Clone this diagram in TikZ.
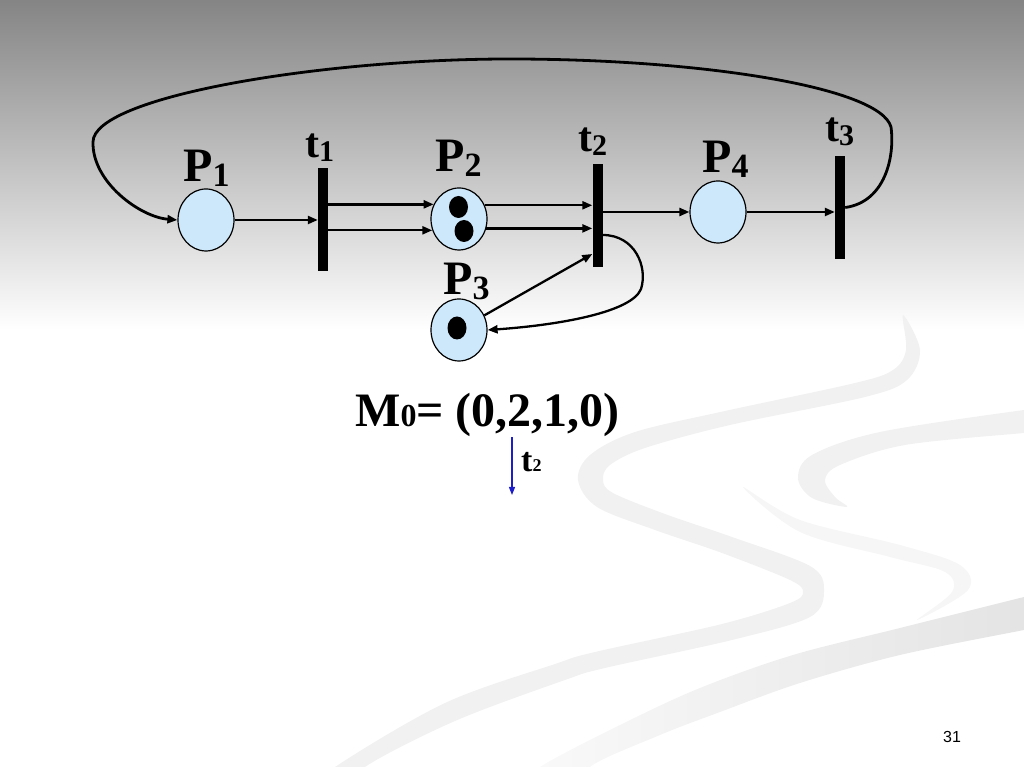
\documentclass[tikz,border=0pt]{standalone}
\usepackage{fontspec}
\setmainfont{Liberation Serif}
\newfontfamily\pagefont{Liberation Sans}
\usetikzlibrary{arrows.meta,shapes.geometric}
\definecolor{placeblue}{RGB}{205,232,250}
\definecolor{fireblue}{RGB}{30,30,200}
\newcommand{\psub}[1]{\raisebox{-5pt}{\fontsize{34}{34}\selectfont #1}}
\newcommand{\tsub}[1]{\raisebox{-4pt}{\fontsize{30}{30}\selectfont #1}}
\begin{document}
\begin{tikzpicture}[x=1pt,y=1pt,
  place/.style={ellipse,draw,line width=1.2pt,fill=placeblue,minimum width=56pt,minimum height=62pt,inner sep=0pt},
  bar/.style={fill=black,minimum width=10pt,minimum height=103pt,inner sep=0pt},
  arc/.style={-{Triangle[length=10pt,width=8pt]},line width=2.3pt},
  lbl/.style={anchor=base west,inner sep=0pt,font=\bfseries\fontsize{48}{48}\selectfont},
  tlbl/.style={anchor=base west,inner sep=0pt,font=\bfseries\fontsize{42}{42}\selectfont}]

\useasboundingbox (0,0) rectangle (1024,767);
\shade[top color=black!48,bottom color=white] (0,437) rectangle (1024,767);

% swooshes
\fill[gray!11] plot[smooth cycle,tension=0.55] coordinates {(903,452) (906,417) (893,397) (855,384) (725,356) (635,335) (590,312) (578,287) (597,260) (655,237) (722,214) (790,187) (803,175) (790,164) (722,143) (595,115) (555,103) (445,64) (335,0) (320,-20) (360,-20) (365,0) (455,46) (565,87) (605,99) (732,127) (810,150) (824,177) (810,201) (732,230) (665,253) (613,274) (603,287) (610,302) (645,319) (730,342) (865,370) (907,387) (920,417)};
\fill[gray!11] plot[smooth cycle,tension=0.55] coordinates {(847,260) (812,269) (798,289) (812,312) (880,335) (1024,357) (1040,357) (1040,335) (1024,334) (905,322) (840,302) (825,287) (835,270)};
\fill[gray!7] plot[smooth cycle,tension=0.55] coordinates {(743,280) (800,247) (900,222) (960,202) (968,177) (917,147) (952,175) (945,195) (890,210) (800,235)};
\shade[left color=gray!4,right color=gray!22] plot[smooth cycle,tension=0.55] coordinates {(1040,174) (1024,170) (900,139) (793,112) (700,79) (620,42) (540,0) (525,-20) (600,-20) (590,0) (660,32) (720,55) (800,84) (900,112) (1024,137) (1040,140)};

\node[place] (p1) at (206,547) {};
\node[place] (p2) at (459,548) {};
\node[place] (p3) at (459,437) {};
\node[place] (p4) at (718,555) {};
\node[bar] (t1) at (323,547.5) {};
\node[bar] (t2) at (597.5,551.5) {};
\node[bar] (t3) at (840,559.5) {};

\fill (458.5,560) ellipse (9.5 and 11);
\fill (464,536) ellipse (9.5 and 11);
\fill (457,439) ellipse (9.5 and 11.5);

\node[lbl] (lp1) at (183,585) {P\psub{1}};
\node[lbl] (lp2) at (435,595) {P\psub{2}};
\node[lbl] (lp3) at (443,472) {P\psub{3}};
\node[lbl] (lp4) at (702,594) {P\psub{4}};
\node[tlbl] (lt1) at (305,609) {t\tsub{1}};
\node[tlbl] (lt2) at (578,615) {t\tsub{2}};
\node[tlbl] (lt3) at (825,625) {t\tsub{3}};

\draw[arc] (p1.east) -- (p1.east -| t1.west);
\draw[arc] (t1.east |- p2.150) -- (p2.150);
\draw[arc] (t1.east |- p2.203) -- (p2.203);
\draw[arc] (p2.28) -- (p2.28 -| t2.west);
\draw[arc] (p2.341) -- (p2.341 -| t2.west);
\draw[arc] (p4.west -| t2.east) -- (p4.west);
\draw[arc] (p4.east) -- (p4.east -| t3.west);
\draw[arc] (p3.30) -- ([yshift=-38.5pt]t2.west);
\draw[arc] ([yshift=-19.5pt]t2.east) .. controls (635,532) and (648,500) .. (641,478)
  .. controls (632,455) and (560,442) .. (p3.east);
\draw[arc,line width=2.8pt] (t3.east) .. controls (885,565) and (895,610) .. (891,640)
  .. controls (880,680) and (700,708) .. (510,708)
  .. controls (320,708) and (93,670) .. (93,625)
  .. controls (92,585) and (140,550) .. (p1.west);

\node[lbl] (m0) at (355,340) {M{\fontsize{32}{32}\selectfont 0}= (0,2,1,0)};
\coordinate (next) at (512,272);
\draw[fireblue,line width=1.3pt,-{Triangle[length=8pt,width=6pt]}] (m0.south -| next) -- (next);
\node[anchor=base west,inner sep=0pt,font=\bfseries\fontsize{34}{34}\selectfont] (lfire) at (521,295) {t{\fontsize{18}{18}\selectfont 2}};

\node[anchor=base west,inner sep=0pt,font=\pagefont\fontsize{16}{16}\selectfont] (pnum) at (943,24) {31};

\end{tikzpicture}
\end{document}
